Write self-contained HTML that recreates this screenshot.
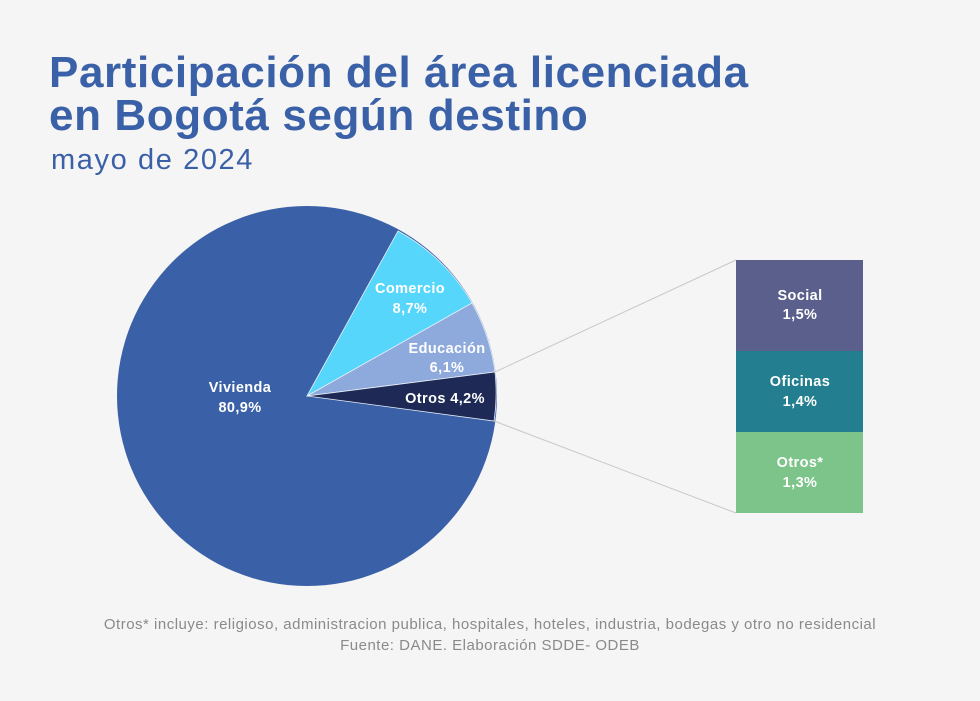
<!DOCTYPE html>
<html><head><meta charset="utf-8"><style>
body{margin:0;background:#f5f5f5;}
.w{position:relative;width:980px;height:701px;font-family:"Liberation Sans",sans-serif;overflow:hidden}
h1{position:absolute;left:49px;top:51px;margin:0;font-size:44px;line-height:43px;letter-spacing:0.6px;color:#3a60a7;font-weight:bold}
.sub{position:absolute;left:51px;top:144px;font-size:29px;letter-spacing:1.6px;color:#3a60a7}
.note{position:absolute;left:0;width:980px;text-align:center;color:#8a8a8a;font-size:15px;letter-spacing:0.5px}
</style></head><body><div class="w">
<h1>Participación del área licenciada<br>en Bogotá según destino</h1>
<div class="sub">mayo de 2024</div>
<svg width="980" height="701" style="position:absolute;left:0;top:0">
<g font-family="Liberation Sans, sans-serif" font-weight="bold" font-size="14.5" fill="#fff" text-anchor="middle" letter-spacing="0.4">
<circle cx="307" cy="396" r="190" fill="#3a60a7"/>
<path d="M307 396 L398 231 A190 190 0 0 1 472 303 Z" fill="#57d6fb" stroke="#e8f0fa" stroke-width="0.8"/>
<path d="M307 396 L472 303 A190 190 0 0 1 495 372 Z" fill="#8ea9dc" stroke="#e8f0fa" stroke-width="0.8"/>
<path d="M307 396 L495 372 A190 190 0 0 1 494 421 Z" fill="#1e2a55" stroke="#e8f0fa" stroke-width="0.8"/>
<line x1="495" y1="372" x2="736" y2="260" stroke="#c8c8c8"/>
<line x1="494" y1="421" x2="736" y2="513" stroke="#c8c8c8"/>
<text x="240" y="392">Vivienda</text><text x="240" y="412">80,9%</text>
<text x="410" y="293">Comercio</text><text x="410" y="313">8,7%</text>
<text x="447" y="353">Educación</text><text x="447" y="372">6,1%</text>
<text x="445" y="403">Otros 4,2%</text>
<rect x="736" y="260" width="127" height="91" fill="#5b5f8b"/>
<rect x="736" y="351" width="127" height="81" fill="#237f8f"/>
<rect x="736" y="432" width="127" height="81" fill="#7cc48a"/>
<text x="800" y="300">Social</text><text x="800" y="319">1,5%</text>
<text x="800" y="386">Oficinas</text><text x="800" y="406">1,4%</text>
<text x="800" y="467">Otros*</text><text x="800" y="487">1,3%</text>
</g></svg>
<div class="note" style="top:616px">Otros* incluye: religioso, administracion publica, hospitales, hoteles, industria, bodegas y otro no residencial</div>
<div class="note" style="top:637px">Fuente: DANE. Elaboración SDDE- ODEB</div>
</div></body></html>
